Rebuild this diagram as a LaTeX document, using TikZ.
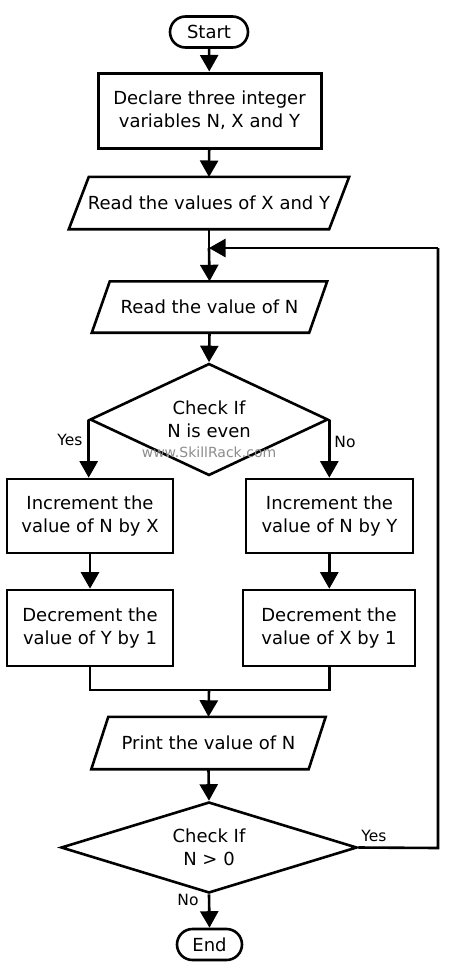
\documentclass[tikz,border=0pt]{standalone}
\usepackage{fontspec}
\setmainfont{DejaVu Sans}
\usetikzlibrary{shapes.geometric,arrows.meta,calc}
\begin{document}
\begin{tikzpicture}[x=1pt,y=-1pt,
  every node/.style={font=\fontsize{18}{23}\selectfont, align=center, inner sep=0pt},
  ln/.style={line width=2.6pt, line join=miter},
  arr/.style={ln, -{Triangle[length=16.5pt,width=18pt]}},
  term/.style={draw, ln, rounded corners=15.5pt, minimum width=#1, minimum height=31pt},
  proc/.style={draw, ln},
  dec/.style={draw, ln, diamond, aspect=2.1},
  lbl/.style={font=\fontsize{15.5}{18}\selectfont},
]
\useasboundingbox (0,0) rectangle (448,972);
% nodes
\node[term=78pt] (start) at (209,32) {Start};
\node[draw, line width=3pt, minimum width=223pt, minimum height=75pt] (decl) at (209.5,110.5) {Declare three integer\\variables N, X and Y};
\node[minimum width=260pt, minimum height=52pt] (rxy) at (209,203) {Read the values of X and Y};
\draw[ln] ($(rxy.north west)+(10,0)$) -- ($(rxy.north east)+(10,0)$) -- ($(rxy.south east)+(-10,0)$) -- ($(rxy.south west)+(-10,0)$) -- cycle;
\coordinate (j1) at (209,248);
\node[minimum width=217pt, minimum height=51pt] (rn) at (209.5,307) {Read the value of N};
\draw[ln] ($(rn.north west)+(9,0)$) -- ($(rn.north east)+(9,0)$) -- ($(rn.south east)+(-9,0)$) -- ($(rn.south west)+(-9,0)$) -- cycle;
\node[dec, minimum width=238pt, minimum height=112pt] (d1) at (209,419.5) {};
\node (d1t) at (209,419) {Check If\\N is even};
\node[proc, minimum width=166pt, minimum height=74pt] (l1) at (90,516) {Increment the\\value of N by X};
\node[proc, minimum width=167pt, minimum height=74pt] (r1) at (329.5,516) {Increment the\\value of N by Y};
\node[proc, minimum width=166pt, minimum height=76pt] (l2) at (90,628) {Decrement the\\value of Y by 1};
\node[proc, minimum width=172pt, minimum height=76pt] (r2) at (329,628) {Decrement the\\value of X by 1};
\coordinate (j2) at (209,690);
\node[minimum width=217pt, minimum height=52pt] (pr) at (208.5,743) {Print the value of N};
\draw[ln] ($(pr.north west)+(8.5,0)$) -- ($(pr.north east)+(8.5,0)$) -- ($(pr.south east)+(-8.5,0)$) -- ($(pr.south west)+(-8.5,0)$) -- cycle;
\node[dec, minimum width=296pt, minimum height=91pt] (d2) at (209,847.5) {};
\node (d2t) at (209,847) {Check If\\N \textgreater{} 0};
\node[term=65pt] (end) at (209.5,944.5) {End};
\coordinate (loopr) at (438,848);
\coordinate (loopt) at (438,248);
% connectors
\draw[arr] (start) -- (decl);
\draw[arr] (decl) -- (rxy.south |- 0,177);
\draw[ln] (rxy.south) -- (j1);
\draw[arr] (j1) -- (rn.north);
\draw[arr] (rn.south) -- (d1.north);
\draw[arr] (d1.west) -- (d1.west |- l1.north);
\draw[arr] (d1.east) -- (d1.east |- r1.north);
\draw[arr] (l1.south) -- (l2.north);
\draw[arr] (r1.south -| d1.east) -- (r2.north -| d1.east);
\draw[ln] (l2.south) -- (l2.south |- j2) -- (j2 -| d1.east) -- (r2.south -| d1.east);
\draw[arr] (j2) -- (pr.north);
\draw[arr] (pr.south) -- (d2.north);
\draw[arr] (d2.south) -- (end.north);
\draw[ln] (d2.east) -- (loopr) -- (loopt);
\draw[arr] (loopt) -- (j1);
% labels
\node[lbl] (yes1) at (70,440) {Yes};
\node[lbl] (no1) at (345,442) {No};
\node[lbl] (yes2) at (374,836) {Yes};
\node[lbl] (no2) at (188,900) {No};
\node[font=\fontsize{14}{16}\selectfont, text=black!45] (wm) at (209,452) {www.SkillRack.com};
\end{tikzpicture}
\end{document}
